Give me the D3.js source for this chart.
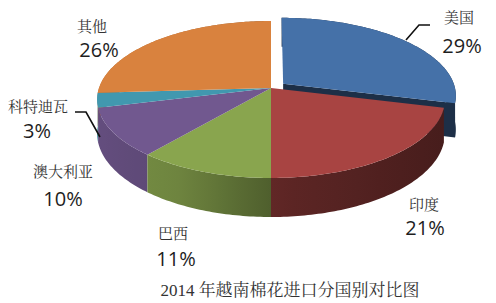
<!DOCTYPE html>
<meta charset="utf-8">
<style>
  body { margin: 0; background: #fff; }
  svg { display: block; }
  .cn { font-family: "Liberation Serif", "Noto Serif CJK SC", "Noto Sans CJK SC", serif; fill: #333; }
  .pct { font-family: "Open Sans", "DejaVu Sans", sans-serif; fill: #1e1e1e; }
</style>
<body></body>
<script src="https://cdnjs.cloudflare.com/ajax/libs/d3/7.8.5/d3.min.js"></script>
<script>

// data
const countries = ["美国", "印度", "巴西", "澳大利亚", "科特迪瓦", "其他"];
const shares = [29, 21, 11, 10, 3, 26];
const topColors = ["#4571a8", "#a84442", "#89a54e", "#71588f", "#4198af", "#d9823e"];
const title = "2014 年越南棉花进口分国别对比图";
const exploded = "美国";

const width = 496, height = 303;

// fake perspective of the tilted disk
const cx = 271, cy = 88;
const rx0 = 172, ay = 76.8, persp = 0.1465, depth = 33.3;
const explodeR = 0.09;

function proj(theta, r, off, h) {
  const X = r * Math.sin(theta) + off[0];
  const Y = -r * Math.cos(theta) + off[1];
  const w = 1 - persp * Y;
  return [cx + rx0 * X / w, cy + ay * Y / w + h * depth / w];
}

// side shading: light from the left
const shade = d3.scaleLinear()
    .domain([97, 180, 277, 445])
    .range([0.88, 0.8, 0.56, 0.42])
    .clamp(true);

function shadeColor(color, x) {
  const c = d3.rgb(color), k = shade(x);
  return d3.rgb(c.r * k, c.g * k, c.b * k).formatHex();
}

const pie = d3.pie().sort(null).value(d => d.value);
const arcs = pie(countries.map((c, i) => ({ name: c, value: shares[i], color: topColors[i] })));

arcs.forEach((d, i) => {
  const mid = (d.startAngle + d.endAngle) / 2;
  d.i = i;
  d.front = -Math.cos(mid);
  d.off = d.data.name === exploded ? [explodeR * Math.sin(mid), -explodeR * Math.cos(mid)] : [0, 0];
  d.samples = d3.range(d.startAngle, d.endAngle, Math.PI / 180).concat([d.endAngle]);
});

const svg = d3.select("body").append("svg")
    .attr("width", width)
    .attr("height", height);

const defs = svg.append("defs");
const line = d3.line();

function topPath(d) {
  const pts = [proj(0, 0, d.off, 0)].concat(d.samples.map(t => proj(t, 1, d.off, 0)));
  return line(pts) + "Z";
}

function rimPath(d) {
  const top = d.samples.map(t => proj(t, 1, d.off, 0));
  const bot = d.samples.map(t => proj(t, 1, d.off, 1)).reverse();
  return line(top.concat(bot)) + "Z";
}

function radialPath(d, a) {
  const pts = [proj(a, 0, d.off, 0), proj(a, 1, d.off, 0), proj(a, 1, d.off, 1), proj(a, 0, d.off, 1)];
  return line(pts) + "Z";
}

arcs.forEach(d => {
  const xs = d.samples.map(t => proj(t, 1, d.off, 0)[0]);
  const x0 = d3.min(xs), x1 = d3.max(xs);
  const g = defs.append("linearGradient")
      .attr("id", "side" + d.i)
      .attr("gradientUnits", "userSpaceOnUse")
      .attr("x1", x0).attr("x2", x1 + 0.01)
      .attr("y1", 0).attr("y2", 0);
  d3.range(0, 1.01, 0.125).forEach(t => {
    g.append("stop")
        .attr("offset", t)
        .attr("stop-color", shadeColor(d.data.color, x0 + t * (x1 - x0)));
  });
});

const pieG = svg.append("g");

// exploded slice first, it sits behind the others
arcs.filter(d => d.data.name === exploded).forEach(d => {
  const g = pieG.append("g");
  g.append("path").attr("d", rimPath(d)).attr("fill", shadeColor(d.data.color, 455));
  g.append("path").attr("d", radialPath(d, d.endAngle)).attr("fill", shadeColor(d.data.color, 445));
  g.append("path").attr("d", topPath(d)).attr("fill", d.data.color);
});

const rest = arcs.filter(d => d.data.name !== exploded);

// rims back to front, then the tops
pieG.append("g")
  .selectAll("path")
  .data(rest.slice().sort((a, b) => a.front - b.front))
  .join("path")
    .attr("d", rimPath)
    .attr("fill", d => `url(#side${d.i})`);

pieG.append("g")
  .selectAll("path")
  .data(rest)
  .join("path")
    .attr("d", topPath)
    .attr("fill", d => d.data.color);

// labels: [name x, name baseline, pct x, pct baseline]
const labelPos = {
  "美国": [459, 23, 462, 53],
  "印度": [424, 210, 425, 235],
  "巴西": [173, 239, 176, 266],
  "澳大利亚": [63, 177, 63, 206],
  "科特迪瓦": [38, 112, 37, 138],
  "其他": [92, 32, 99, 57]
};

const leaders = [
  [[406, 40], [419, 25], [430, 25]],
  [[75, 112], [86, 112], [100, 137]]
];

svg.append("g")
    .attr("fill", "none")
    .attr("stroke", "#111")
    .attr("stroke-width", 1.6)
  .selectAll("path")
  .data(leaders)
  .join("path")
    .attr("d", d => line(d));

const labels = svg.append("g")
    .attr("text-anchor", "middle")
  .selectAll("g")
  .data(arcs)
  .join("g");

labels.append("text")
    .attr("class", "cn")
    .attr("font-size", 15)
    .attr("x", d => labelPos[d.data.name][0])
    .attr("y", d => labelPos[d.data.name][1])
    .text(d => d.data.name);

labels.append("text")
    .attr("class", "pct")
    .attr("font-size", 20)
    .attr("x", d => labelPos[d.data.name][2])
    .attr("y", d => labelPos[d.data.name][3])
    .text(d => d.data.value + "%");

svg.append("text")
    .attr("class", "cn")
    .attr("text-anchor", "middle")
    .attr("font-size", 17)
    .attr("x", 290)
    .attr("y", 296)
    .text(title);

</script>
